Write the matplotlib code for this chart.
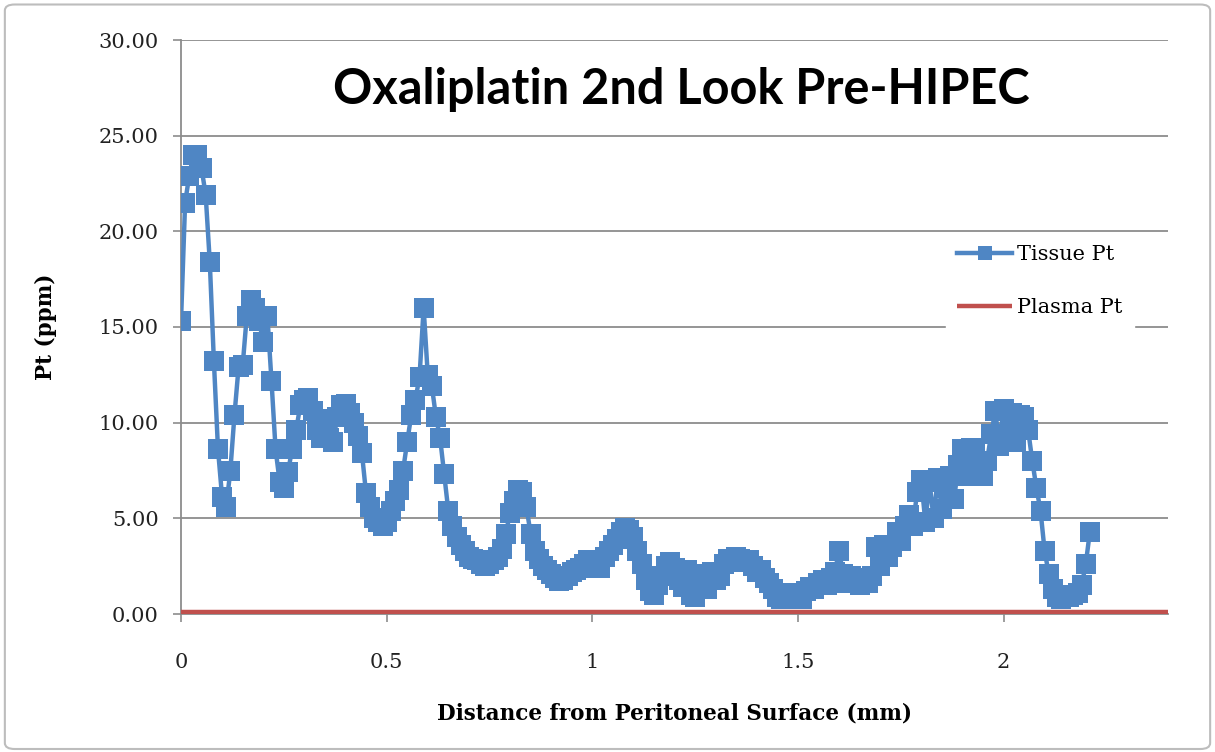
import matplotlib
matplotlib.use("Agg")
import matplotlib.pyplot as plt
import numpy as np
from matplotlib.patches import FancyBboxPatch

# Tissue Pt (ppm) sampled every 0.01 mm from the peritoneal surface
tissue_pt = [
    15.3, 21.5, 22.9, 24.0, 24.0, 23.3, 21.9, 18.4, 13.2, 8.6,
    6.1, 5.6, 7.5, 10.4, 12.9, 13.0, 15.6, 16.4, 16.0, 15.3,
    14.2, 15.6, 12.2, 8.6, 6.9, 6.6, 7.4, 8.6, 9.6, 10.9,
    11.2, 11.3, 10.6, 9.6, 9.2, 10.2, 9.2, 9.0, 10.3, 10.9,
    11.0, 10.5, 10.0, 9.3, 8.4, 6.3, 5.6, 5.0, 4.8, 4.6,
    4.8, 5.4, 5.9, 6.5, 7.5, 9.0, 10.4, 11.2, 12.4, 16.0,
    12.5, 11.9, 10.3, 9.2, 7.3, 5.4, 4.6, 4.0, 3.6, 3.3,
    3.0, 2.9, 2.8, 2.6, 2.5, 2.6, 2.8, 3.0, 3.4, 4.2,
    5.3, 5.9, 6.5, 6.4, 5.6, 4.2, 3.3, 2.9, 2.5, 2.3,
    2.1, 1.9, 1.7, 1.8, 2.0, 2.2, 2.3, 2.4, 2.6, 2.8,
    2.5, 2.8, 2.4, 3.0, 3.3, 3.6, 3.9, 4.3, 4.5, 4.4,
    4.0, 3.3, 2.6, 1.8, 1.2, 1.0, 1.5, 2.0, 2.5, 2.7,
    2.4, 1.8, 1.4, 2.3, 1.0, 0.9, 1.7, 2.1, 1.3, 2.2,
    1.8, 2.0, 2.6, 2.9, 2.8, 3.0, 2.9, 2.7, 2.8, 2.5,
    2.2, 2.3, 1.9, 1.6, 1.3, 0.9, 0.8, 1.1, 0.8, 1.0,
    1.1, 0.8, 1.2, 1.4, 1.3, 1.6, 1.8, 1.5, 1.9, 2.2,
    3.3, 2.1, 1.6, 2.0, 1.7, 1.5, 1.9, 1.6, 2.0, 3.5,
    2.5, 3.6, 3.0, 3.5, 4.3, 3.8, 4.6, 5.2, 4.6, 6.4,
    7.0, 4.8, 6.9, 5.0, 7.1, 5.5, 6.6, 7.2, 6.0, 7.8,
    8.6, 7.2, 8.7, 8.6, 7.8, 7.2, 8.0, 9.4, 10.6, 8.8,
    10.7, 9.4, 10.5, 9.0, 10.4, 10.3, 9.6, 8.0, 6.6, 5.4,
    3.3, 2.1, 1.3, 0.9, 0.8, 0.9, 0.9, 1.0, 1.1, 1.5,
    2.6, 4.3,
]
distance_mm = np.round(np.arange(len(tissue_pt)) * 0.01, 2)

plasma_x = [0.0, 2.4]
plasma_pt = [0.1, 0.1]

x_ticks = [0, 0.5, 1, 1.5, 2]
x_tick_labels = ["0", "0.5", "1", "1.5", "2"]
y_ticks = [0, 5, 10, 15, 20, 25, 30]
y_tick_labels = ["0.00", "5.00", "10.00", "15.00", "20.00", "25.00", "30.00"]

title = "Oxaliplatin 2nd Look Pre-HIPEC"
x_label = "Distance from Peritoneal Surface (mm)"
y_label = "Pt (ppm)"

BLUE = "#4F86C4"
RED = "#C0504D"
GRID = "#8C8C8C"
SERIF = ["DejaVu Serif"]

fig = plt.figure(figsize=(12.15, 7.52), dpi=100)
fig.patch.set_facecolor("white")
border = FancyBboxPatch((0.004, 0.004), 0.992, 0.99, boxstyle="round,pad=0,rounding_size=0.008",
                        transform=fig.transFigure, facecolor="none", edgecolor="#BDBDBD",
                        linewidth=1.5, zorder=-1)
fig.patches.append(border)

ax = fig.add_axes([181 / 1215, 1 - 614 / 752, (1168 - 181) / 1215, (614 - 40) / 752])

ax.plot(plasma_x, plasma_pt, color=RED, linewidth=3.2, label="Plasma Pt", zorder=3,
        solid_capstyle="butt")
ax.plot(distance_mm, tissue_pt, color=BLUE, linewidth=3.2, marker="s", markersize=14,
        markeredgewidth=0, label="Tissue Pt", zorder=4)

ax.set_xlim(0, 2.4)
ax.set_ylim(0, 30)
ax.set_xticks(x_ticks)
ax.set_xticklabels(x_tick_labels)
ax.set_yticks(y_ticks)
ax.set_yticklabels(y_tick_labels)
for lbl in ax.get_xticklabels() + ax.get_yticklabels():
    lbl.set_family(SERIF)
    lbl.set_fontsize(15)
    lbl.set_color("#222222")

ax.yaxis.grid(True, color=GRID, linewidth=1.3)
ax.set_axisbelow(True)
for s in ["top", "right"]:
    ax.spines[s].set_visible(False)
ax.spines["left"].set_color(GRID)
ax.spines["bottom"].set_color(GRID)
ax.spines["left"].set_linewidth(1.3)
ax.spines["bottom"].set_linewidth(1.3)
ax.tick_params(axis="both", direction="out", color=GRID, length=6, width=1.2)
ax.tick_params(axis="x", pad=22)
ax.tick_params(axis="y", pad=10)

ax.set_xlabel(x_label, family=SERIF, fontsize=15.5, fontweight="bold", labelpad=22)
ax.set_ylabel(y_label, family=SERIF, fontsize=15.5, fontweight="bold", labelpad=30)

fig.text(681 / 1215, 1 - 90 / 752, title, ha="center", va="center",
         fontsize=35, fontweight="bold", family=["Lato", "DejaVu Sans"])

handles, labels = ax.get_legend_handles_labels()
leg = ax.legend(handles[::-1], labels[::-1], loc="upper left",
                bbox_to_anchor=((946 - 181) / (1168 - 181), (614 - 234) / (614 - 40)),
                frameon=True, fancybox=False, framealpha=1, edgecolor="white",
                facecolor="white", prop={"family": SERIF, "size": 15},
                handlelength=2.6, labelspacing=1.6, markerscale=0.7,
                borderpad=0.55, handletextpad=0.25, borderaxespad=0)

fig.savefig("out.png", dpi=100, facecolor="white")
